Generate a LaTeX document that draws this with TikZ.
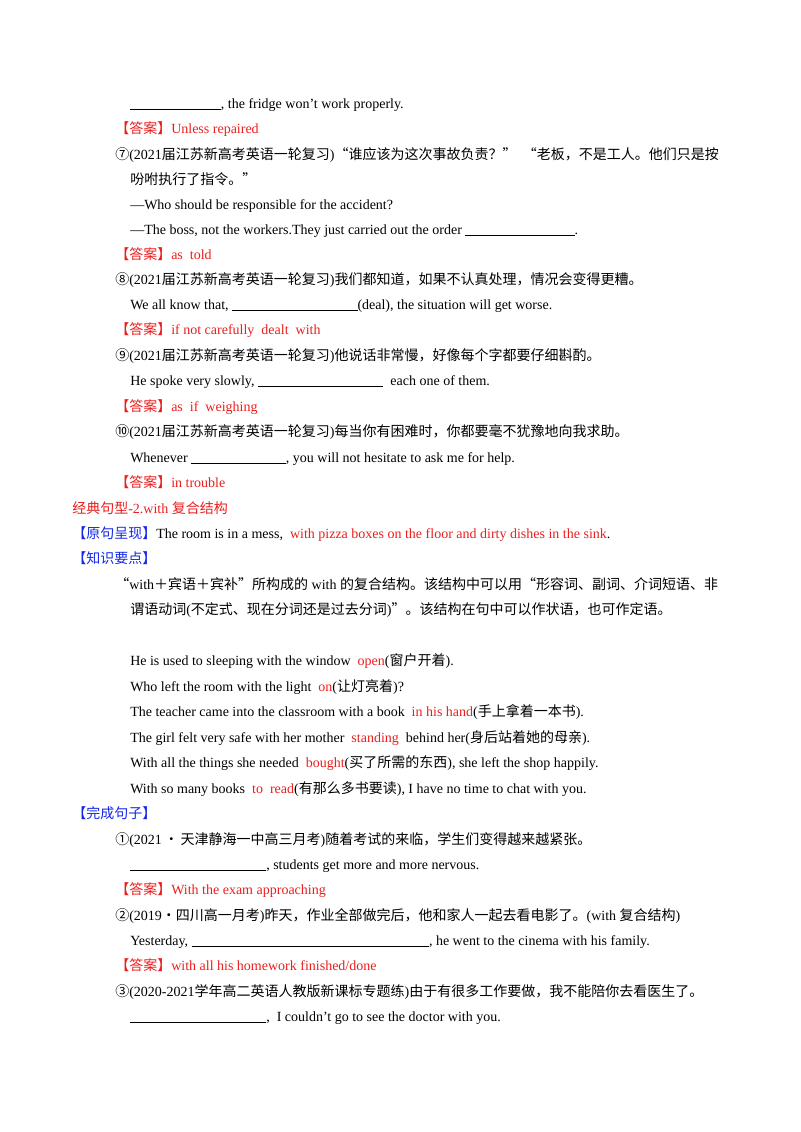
\documentclass[tikz,border=0pt]{standalone}
\usepackage{fontspec}
\setmainfont{Liberation Serif}
\newfontfamily\cjk{Noto Sans CJK SC}
\newcommand\zh[1]{{\cjk #1}}
\newcommand\blank[1]{\rule[-1.5pt]{#1pt}{0.5pt}}
\definecolor{ans}{RGB}{235,30,30}
\definecolor{lab}{RGB}{20,40,230}
\newcommand\da{\textcolor{ans}{\zh{【答案】}}}
\begin{document}
\begin{tikzpicture}[x=0.75pt,y=-0.75pt,
  txt/.style={anchor=base west,inner sep=0pt,font=\fontsize{10.5}{12}\selectfont}]
\useasboundingbox (0,0) rectangle (800,1132);
\node[txt] (a1) at (130,108) {\blank{68}, the fridge won’t work properly.};
\node[txt] (a2) at (115,133) {\da\textcolor{ans}{Unless repaired}};
\node[txt] (a3) at (115,159) {\zh{⑦}(2021\zh{届江苏新高考英语一轮复习})\zh{“谁应该为这次事故负责？”\ \ “老板，不是工人。他们只是按}};
\node[txt] (a4) at (130,184) {\zh{吩咐执行了指令。”}};
\node[txt] (a5) at (130,209) {—Who should be responsible for the accident?};
\node[txt] (a6) at (130,234) {—The boss, not the workers.They just carried out the order \blank{82}.};
\node[txt] (a7) at (115,259) {\da\textcolor{ans}{as\ \ told}};
\node[txt] (a8) at (115,284) {\zh{⑧}(2021\zh{届江苏新高考英语一轮复习})\zh{我们都知道，如果不认真处理，情况会变得更糟。}};
\node[txt] (a9) at (130,309) {We all know that, \blank{94}(deal), the situation will get worse.};
\node[txt] (a10) at (115,334) {\da\textcolor{ans}{if not carefully\ \ dealt\ \ with}};
\node[txt] (a11) at (115,360) {\zh{⑨}(2021\zh{届江苏新高考英语一轮复习})\zh{他说话非常慢，好像每个字都要仔细斟酌。}};
\node[txt] (a12) at (130,385) {He spoke very slowly, \blank{94}\ \ each one of them.};
\node[txt] (a13) at (115,411) {\da\textcolor{ans}{as\ \ if\ \ weighing}};
\node[txt] (a14) at (115,436) {\zh{⑩}(2021\zh{届江苏新高考英语一轮复习})\zh{每当你有困难时，你都要毫不犹豫地向我求助。}};
\node[txt] (a15) at (130,462) {Whenever \blank{71}, you will not hesitate to ask me for help.};
\node[txt] (a16) at (115,487) {\da\textcolor{ans}{in trouble}};
\node[txt,text=ans] (b1) at (72,513) {\zh{经典句型}-2.with \zh{复合结构}};
\node[txt] (b2) at (72,538) {\textcolor{lab}{\zh{【原句呈现】}}The room is in a mess,\ \ \textcolor{ans}{with pizza boxes on the floor and dirty dishes in the sink}.};
\node[txt] (b3) at (72,563) {\textcolor{lab}{\zh{【知识要点】}}};
\node[txt] (b4) at (115,589) {\zh{“}with\zh{＋宾语＋宾补”所构成的} with \zh{的复合结构。该结构中可以用“形容词、副词、介词短语、非}};
\node[txt] (b5) at (130,614) {\zh{谓语动词}(\zh{不定式、现在分词还是过去分词})\zh{”。该结构在句中可以作状语，也可作定语。}};
\node[txt] (c1) at (130,665) {He is used to sleeping with the window\ \ \textcolor{ans}{open}(\zh{窗户开着}).};
\node[txt] (c2) at (130,691) {Who left the room with the light\ \ \textcolor{ans}{on}(\zh{让灯亮着})?};
\node[txt] (c3) at (130,716) {The teacher came into the classroom with a book\ \ \textcolor{ans}{in his hand}(\zh{手上拿着一本书}).};
\node[txt] (c4) at (130,742) {The girl felt very safe with her mother\ \ \textcolor{ans}{standing}\ \ behind her(\zh{身后站着她的母亲}).};
\node[txt] (c5) at (130,767) {With all the things she needed\ \ \textcolor{ans}{bought}(\zh{买了所需的东西}), she left the shop happily.};
\node[txt] (c6) at (130,793) {With so many books\ \ \textcolor{ans}{to\ \ read}(\zh{有那么多书要读}), I have no time to chat with you.};
\node[txt] (d1) at (72,818) {\textcolor{lab}{\zh{【完成句子】}}};
\node[txt] (d2) at (115,844) {\zh{①}(2021\,\zh{•}\,\zh{天津静海一中高三月考})\zh{随着考试的来临，学生们变得越来越紧张。}};
\node[txt] (d3) at (130,869) {\blank{102}, students get more and more nervous.};
\node[txt] (d4) at (115,894) {\da\textcolor{ans}{With the exam approaching}};
\node[txt] (d5) at (115,920) {\zh{②}(2019\zh{·四川高一月考})\zh{昨天，作业全部做完后，他和家人一起去看电影了。}(with \zh{复合结构})};
\node[txt] (d6) at (130,945) {Yesterday, \blank{178}, he went to the cinema with his family.};
\node[txt] (d7) at (115,970) {\da\textcolor{ans}{with all his homework finished/done}};
\node[txt] (d8) at (115,996) {\zh{③}(2020-2021\zh{学年高二英语人教版新课标专题练})\zh{由于有很多工作要做，我不能陪你去看医生了。}};
\node[txt] (d9) at (130,1021) {\blank{102},\ \ I couldn’t go to see the doctor with you.};
\end{tikzpicture}
\end{document}
